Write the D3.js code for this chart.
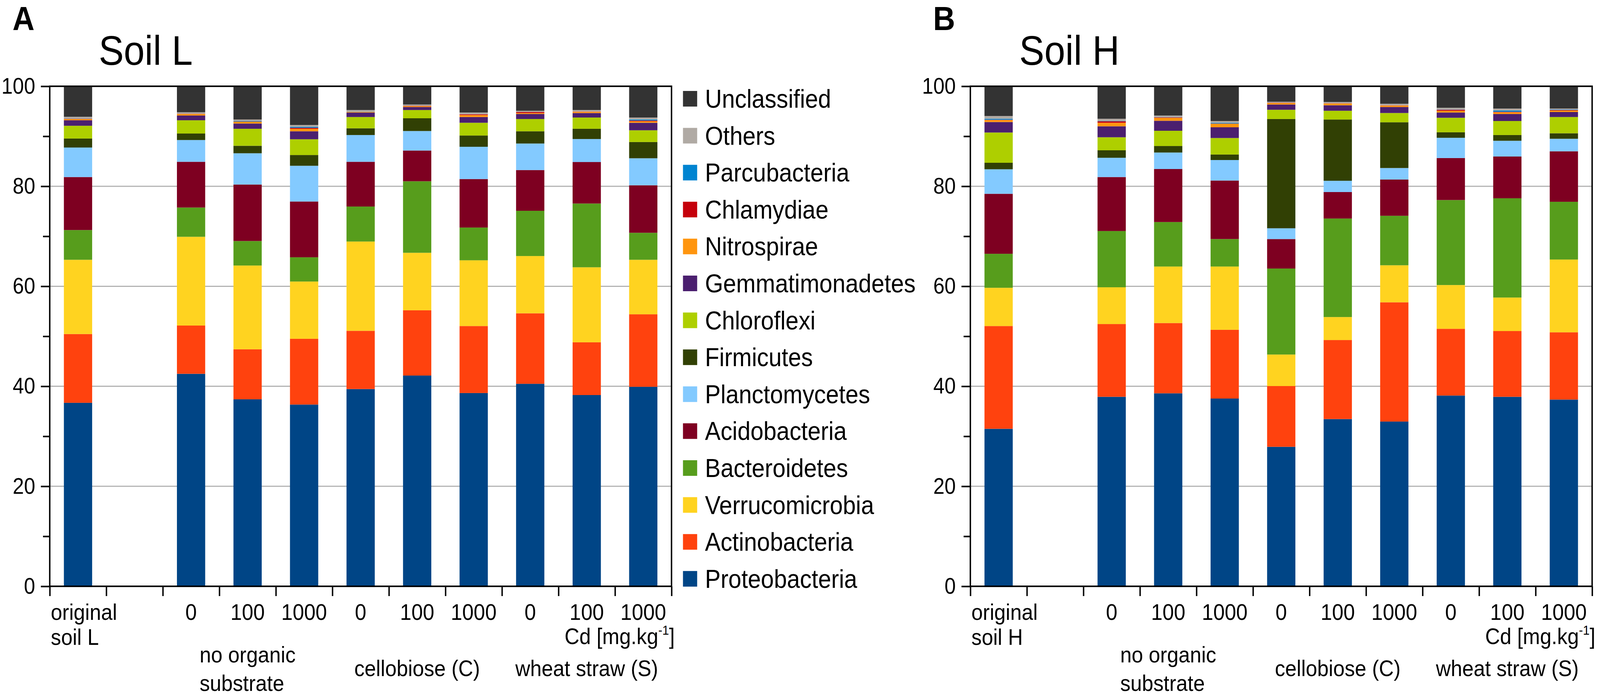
<!DOCTYPE html>
<html>
<head>
<meta charset="utf-8">
<script src="https://cdn.jsdelivr.net/npm/d3@7"></script>
<style>
  html, body { margin: 0; padding: 0; background: #fff; overflow: hidden; }
  svg { display: block; }
  text { font-family: "Liberation Sans", Arial, sans-serif; fill: #000; }
</style>
</head>
<body>
<div id="chart"></div>
<script>
// phyla from bottom of the stack to the top
const phyla = ["Proteobacteria", "Actinobacteria", "Verrucomicrobia", "Bacteroidetes",
  "Acidobacteria", "Planctomycetes", "Firmicutes", "Chloroflexi", "Gemmatimonadetes",
  "Nitrospirae", "Chlamydiae", "Parcubacteria", "Others", "Unclassified"];
const phylumColors = ["#004586", "#ff420e", "#ffd320", "#579d1c", "#7e0021", "#83caff",
  "#314004", "#aecf00", "#4b1f6f", "#ff950e", "#c5000b", "#0084d1", "#b0aaa4", "#333333"];

// x slots: original soil, an empty slot, then 3 substrates x 3 Cd levels
const sampleKeys = ["orig", "N0", "N100", "N1000", "C0", "C100", "C1000", "S0", "S100", "S1000"];
const slots = ["orig", "gap", "N0", "N100", "N1000", "C0", "C100", "C1000", "S0", "S100", "S1000"];
const cdLabels = ["", "0", "100", "1000", "0", "100", "1000", "0", "100", "1000"];
const groupLabels = [["no organic", "substrate"], ["cellobiose (C)"], ["wheat straw (S)"]];
const groupSlots = ["N100", "C100", "S100"];
const yTicks = [0, 20, 40, 60, 80, 100];
const yMinorTicks = [10, 30, 50, 70, 90];

// relative abundance (%), one row per sample, columns in the order of phyla
const soilL = [
  [36.7, 13.75, 14.85, 5.95, 10.6, 5.9, 1.8, 2.55, 1.1, 0.25, 0.05, 0.05, 0.35, 6.1],
  [42.5, 9.65, 17.75, 5.85, 9.15, 4.35, 1.3, 2.65, 0.95, 0.3, 0.05, 0.0, 0.3, 5.2],
  [37.4, 10.0, 16.75, 4.9, 11.3, 6.25, 1.5, 3.4, 1.05, 0.35, 0.05, 0.1, 0.3, 6.65],
  [36.35, 13.15, 11.45, 4.85, 11.15, 7.15, 2.15, 3.15, 1.6, 0.5, 0.2, 0.2, 0.35, 7.75],
  [39.45, 11.65, 17.85, 7.0, 8.95, 5.35, 1.35, 2.25, 0.9, 0.15, 0.0, 0.05, 0.3, 4.75],
  [42.15, 13.05, 11.5, 14.3, 6.15, 3.9, 2.55, 1.65, 0.6, 0.2, 0.05, 0.0, 0.25, 3.65],
  [38.65, 13.4, 13.15, 6.55, 9.7, 6.45, 2.25, 2.55, 1.15, 0.4, 0.15, 0.0, 0.35, 5.25],
  [40.5, 14.1, 11.45, 9.05, 8.15, 5.3, 2.45, 2.45, 1.0, 0.2, 0.2, 0.0, 0.25, 4.9],
  [38.25, 10.55, 15.0, 12.75, 8.3, 4.6, 2.05, 2.25, 0.9, 0.25, 0.05, 0.0, 0.3, 4.75],
  [39.9, 14.5, 10.9, 5.4, 9.5, 5.4, 3.25, 2.35, 1.5, 0.3, 0.15, 0.2, 0.4, 6.25]
];
const soilH = [
  [31.5, 20.55, 7.65, 6.8, 12.0, 4.9, 1.3, 6.05, 2.1, 0.4, 0.05, 0.2, 0.55, 5.95],
  [37.9, 14.55, 7.35, 11.25, 10.8, 3.85, 1.5, 2.6, 2.2, 0.7, 0.3, 0.05, 0.45, 6.5],
  [38.6, 14.05, 11.3, 8.9, 10.6, 3.3, 1.3, 3.05, 2.0, 0.6, 0.1, 0.05, 0.3, 5.85],
  [37.55, 13.75, 12.65, 5.5, 11.7, 4.1, 1.1, 3.3, 2.15, 0.7, 0.05, 0.15, 0.35, 6.95],
  [27.9, 12.15, 6.3, 17.2, 5.9, 2.15, 21.85, 1.85, 1.05, 0.3, 0.05, 0.0, 0.2, 3.1],
  [33.45, 15.8, 4.6, 19.7, 5.3, 2.25, 12.25, 1.75, 1.1, 0.35, 0.05, 0.0, 0.25, 3.15],
  [32.95, 23.85, 7.4, 9.9, 7.25, 2.3, 9.15, 1.85, 1.2, 0.3, 0.05, 0.0, 0.3, 3.5],
  [38.15, 13.35, 8.75, 17.0, 8.4, 4.05, 1.1, 2.9, 1.05, 0.35, 0.2, 0.05, 0.35, 4.3],
  [37.9, 13.15, 6.7, 19.85, 8.35, 3.15, 1.15, 2.8, 1.4, 0.35, 0.1, 0.25, 0.4, 4.45],
  [37.35, 13.45, 14.55, 11.55, 10.1, 2.5, 1.1, 3.25, 1.0, 0.3, 0.1, 0.1, 0.2, 4.45]
];

const width = 4512, height = 1783;
const plotTop = 221, plotBottom = 1502;

// stretch the 4512x1783 drawing over the whole window
const svg = d3.select("#chart").append("svg")
  .attr("viewBox", `0 0 ${width} ${height}`)
  .attr("preserveAspectRatio", "none")
  .style("width", "100vw")
  .style("height", "100vh");

const y = d3.scaleLinear().domain([0, 100]).range([plotBottom, plotTop]);
const color = d3.scaleOrdinal().domain(phyla).range(phylumColors);

function drawPanel(left, right, rows, letter, title, soilName) {
  const g = svg.append("g");

  const x = d3.scaleBand().domain(slots).range([left, right])
    .paddingInner(0.5).paddingOuter(0.25);
  // slot boundaries for the x ticks
  const xEdges = d3.scaleLinear().domain([0, slots.length]).range([left, right]);

  // grid
  g.append("g").selectAll("line")
    .data([20, 40, 60, 80])
    .enter().append("line")
    .attr("x1", left).attr("x2", right)
    .attr("y1", d => y(d)).attr("y2", d => y(d))
    .attr("stroke", "#b3b3b3").attr("stroke-width", 3);

  // stacked bars
  const table = rows.map((r, i) => {
    const o = { key: sampleKeys[i] };
    phyla.forEach((p, j) => o[p] = r[j]);
    return o;
  });
  const series = d3.stack().keys(phyla)(table);

  g.append("g").selectAll("g")
    .data(series)
    .enter().append("g")
    .attr("fill", d => color(d.key))
    .selectAll("rect")
    .data(d => d)
    .enter().append("rect")
    .attr("x", d => x(d.data.key))
    .attr("width", x.bandwidth())
    .attr("y", d => y(d[1]))
    .attr("height", d => y(d[0]) - y(d[1]));

  // frame
  g.append("rect")
    .attr("x", left).attr("y", plotTop)
    .attr("width", right - left).attr("height", plotBottom - plotTop)
    .attr("fill", "none").attr("stroke", "#000").attr("stroke-width", 4);

  // y axis
  const yAxis = g.append("g")
    .attr("transform", `translate(${left},0)`)
    .call(d3.axisLeft(y).tickValues(yTicks).tickSize(25).tickPadding(16));
  yAxis.select(".domain").remove();
  yAxis.selectAll("line").attr("stroke-width", 4);
  yAxis.selectAll("text").attr("font-size", 57);

  const yMinor = g.append("g")
    .attr("transform", `translate(${left},0)`)
    .call(d3.axisLeft(y).tickValues(yMinorTicks).tickSize(19).tickFormat(""));
  yMinor.select(".domain").remove();
  yMinor.selectAll("line").attr("stroke-width", 4);

  // x axis ticks at slot edges
  const xAxis = g.append("g")
    .attr("transform", `translate(0,${plotBottom})`)
    .call(d3.axisBottom(xEdges).tickValues(d3.range(slots.length + 1)).tickSize(25).tickFormat(""));
  xAxis.select(".domain").remove();
  xAxis.selectAll("line").attr("stroke-width", 4);

  // Cd level labels
  g.append("g").selectAll("text")
    .data(sampleKeys.slice(1))
    .enter().append("text")
    .attr("x", d => x(d) + x.bandwidth() / 2)
    .attr("y", 1588)
    .attr("text-anchor", "middle")
    .attr("font-size", 58)
    .text((d, i) => cdLabels[i + 1]);

  // original soil label
  g.append("text").attr("x", left + 3).attr("y", 1588).attr("font-size", 58).text("original");
  g.append("text").attr("x", left + 3).attr("y", 1652).attr("font-size", 58).text(soilName);

  // unit label
  const unit = g.append("text")
    .attr("x", right + 9).attr("y", 1650)
    .attr("text-anchor", "end")
    .attr("font-size", 58);
  unit.append("tspan").text("Cd [mg.kg");
  unit.append("tspan").attr("font-size", 34).attr("dy", -24).text("-1");
  unit.append("tspan").attr("dy", 24).text("]");

  // substrate group labels (left aligned block centred on the middle slot)
  const groupY = [[1697, 1770], [1732], [1732]];
  groupLabels.forEach((lines, k) => {
    const cx = x(groupSlots[k]) + x.bandwidth() / 2;
    const texts = lines.map((t, j) => g.append("text")
      .attr("y", groupY[k][j]).attr("font-size", 58).text(t));
    const w = d3.max(texts, t => t.node().getComputedTextLength());
    texts.forEach(t => t.attr("x", cx - w / 2));
  });

  // panel letter and title
  g.append("text").attr("x", left - 105).attr("y", 77)
    .attr("font-size", 86).attr("font-weight", "bold").text(letter);
  g.append("text").attr("x", left + 138).attr("y", 166)
    .attr("font-size", 106).text(title);
}

drawPanel(140.3, 1893.7, soilL, "A", "Soil L", "soil L");
drawPanel(2736.4, 4489.8, soilH, "B", "Soil H", "soil H");

// legend, top item is the top of the stack
const legend = svg.append("g").attr("transform", "translate(1926,233)");
const items = legend.selectAll("g")
  .data(phyla.slice().reverse())
  .enter().append("g")
  .attr("transform", (d, i) => `translate(0,${i * 94.6})`);
items.append("rect")
  .attr("width", 40).attr("height", 40)
  .attr("fill", d => color(d));
items.append("text")
  .attr("x", 62).attr("y", 43)
  .attr("font-size", 66)
  .text(d => d);
</script>
</body>
</html>
